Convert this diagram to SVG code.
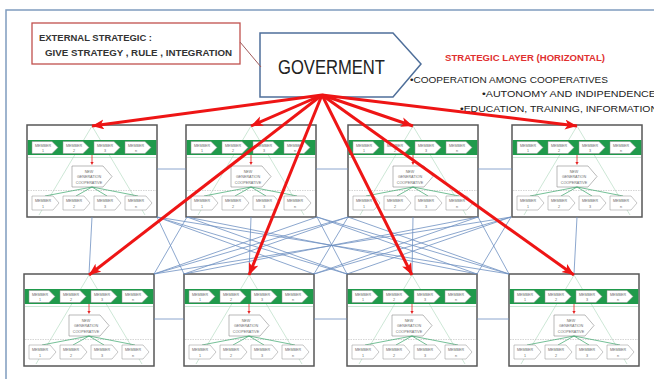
<svg xmlns="http://www.w3.org/2000/svg" width="654" height="379" viewBox="0 0 654 379">
<style>
.mt{font-family:"Liberation Sans",Arial,sans-serif;font-size:3.7px;fill:#6a6a6a;text-anchor:middle}
.mem{fill:#fff;stroke:#8c8c8c;stroke-width:0.5}
.mesh{stroke:#6f90c2;stroke-width:0.8;fill:none}
.red{stroke:#ee1515;stroke-width:3;fill:none;marker-end:url(#ah)}
.hdr{font-family:"Liberation Sans",Arial,sans-serif;font-weight:bold;font-size:9px;fill:#333}
.bul{font-family:"Liberation Sans",Arial,sans-serif;font-size:9.5px;fill:#222}
</style>
<defs>
<marker id="ah" markerUnits="userSpaceOnUse" markerWidth="13" markerHeight="11" refX="12" refY="5" orient="auto">
<path d="M0,0 L12,5 L0,10 L3,5 z" fill="#ee1515"/>
</marker>
<polygon id="memTop" class="mem" points="0,0 20,0 26,6 20,12 0,12"/>
<polygon id="memBot" class="mem" points="0,0 21,0 27,7 21,14 0,14"/>
<g id="coop">
<rect x="0" y="0" width="130" height="92" fill="#fff" stroke="#575757" stroke-width="1.5"/>
<path d="M65,1 L12,90 M65,1 L118,90" stroke="#b7dcc4" stroke-width="0.7" fill="none"/>
<rect x="0.75" y="15" width="128.5" height="15" fill="#1f9a4b"/>
<line x1="1" y1="32.5" x2="129" y2="32.5" stroke="#a6d9b8" stroke-width="0.6"/>
<use href="#memTop" x="5" y="16.5"/><use href="#memTop" x="36" y="16.5"/><use href="#memTop" x="67" y="16.5"/><use href="#memTop" x="98" y="16.5"/>
<text class="mt" x="16" y="21.8">MEMBER</text><text class="mt" x="16" y="27.2">1</text>
<text class="mt" x="47" y="21.8">MEMBER</text><text class="mt" x="47" y="27.2">2</text>
<text class="mt" x="78" y="21.8">MEMBER</text><text class="mt" x="78" y="27.2">3</text>
<text class="mt" x="109" y="21.8">MEMBER</text><text class="mt" x="109" y="27.2">n</text>
<line x1="65" y1="30" x2="65" y2="38" stroke="#e52020" stroke-width="0.8"/>
<polygon points="63.4,37 66.6,37 65,40" fill="#e52020"/>
<polygon points="45,41 76,41 85,51.5 76,62 45,62" fill="#fff" stroke="#8c8c8c" stroke-width="0.6"/>
<text class="mt" x="62" y="47.5">NEW</text>
<text class="mt" x="62" y="53">GENERATION</text>
<text class="mt" x="62" y="58.5">COOPERATIVE</text>
<line x1="1" y1="65.5" x2="129" y2="65.5" stroke="#bbb" stroke-width="0.6" stroke-dasharray="1.5,1"/>
<path d="M65,62 L18,71 M65,62 L49,71 M65,62 L80,71 M65,62 L111,71" stroke="#3aa56a" stroke-width="0.7" fill="none"/>
<use href="#memBot" x="5" y="71"/><use href="#memBot" x="36" y="71"/><use href="#memBot" x="67" y="71"/><use href="#memBot" x="98" y="71"/>
<text class="mt" x="16" y="77">MEMBER</text><text class="mt" x="16" y="82.7">1</text>
<text class="mt" x="47" y="77">MEMBER</text><text class="mt" x="47" y="82.7">2</text>
<text class="mt" x="78" y="77">MEMBER</text><text class="mt" x="78" y="82.7">3</text>
<text class="mt" x="109" y="77">MEMBER</text><text class="mt" x="109" y="82.7">n</text>
</g>
</defs>
<rect width="654" height="379" fill="#fff"/>
<path d="M6,379 L6,10 L654,10" fill="none" stroke="#7f9cbf" stroke-width="1.5"/>

<g id="external-strategic">
<rect x="32" y="23" width="208" height="41" fill="#fff" stroke="#c0504d" stroke-width="1.3"/>
<text class="hdr" x="39" y="41" textLength="113" lengthAdjust="spacingAndGlyphs">EXTERNAL STRATEGIC :</text>
<text class="hdr" x="45" y="56" textLength="187" lengthAdjust="spacingAndGlyphs">GIVE STRATEGY , RULE , INTEGRATION</text>
</g>

<g id="goverment">
<polygon points="260,33 393,33 421,64 393,97 260,97" fill="#fff" stroke="#4f6f9a" stroke-width="1.5"/>
<text x="278" y="74" font-family="Liberation Sans, Arial, sans-serif" font-size="20" fill="#222" textLength="107" lengthAdjust="spacingAndGlyphs">GOVERMENT</text>
</g>

<g id="strategic-layer">
<text x="445" y="61" font-family="Liberation Sans, Arial, sans-serif" font-size="9.5" font-weight="bold" fill="#e03030" textLength="160" lengthAdjust="spacingAndGlyphs">STRATEGIC LAYER (HORIZONTAL)</text>
<text class="bul" x="410" y="82.5" textLength="198" lengthAdjust="spacingAndGlyphs">•COOPERATION AMONG COOPERATIVES</text>
<text class="bul" x="482" y="97" textLength="174" lengthAdjust="spacingAndGlyphs">•AUTONOMY AND INDIPENDENCE</text>
<text class="bul" x="460" y="111.5" textLength="198" lengthAdjust="spacingAndGlyphs">•EDUCATION, TRAINING, INFORMATION</text>
</g>

<g id="coop-top-1" transform="translate(27,125)"><use href="#coop"/></g>
<g id="coop-top-2" transform="translate(186,125)"><use href="#coop"/></g>
<g id="coop-top-3" transform="translate(348,125)"><use href="#coop"/></g>
<g id="coop-top-4" transform="translate(512,125)"><use href="#coop"/></g>
<g id="coop-bottom-1" transform="translate(24,274)"><use href="#coop"/></g>
<g id="coop-bottom-2" transform="translate(184,274)"><use href="#coop"/></g>
<g id="coop-bottom-3" transform="translate(347,274)"><use href="#coop"/></g>
<g id="coop-bottom-4" transform="translate(509,274)"><use href="#coop"/></g>

<g id="connectors">
<line x1="240" y1="42" x2="261" y2="67" stroke="#a05a5a" stroke-width="1"/>
<path class="mesh" d="M157,169 L186,169 M316,169 L348,169 M478,169 L512,169 M154,319 L184,319 M314,319 L347,319 M477,319 L509,319
M92,217 L89,274 M251,217 L249,274 M413,217 L412,274 M577,217 L574,274
M157,217 L509,274 M187,217 L477,274 M317,217 L347,274 M348,217 L314,274 M478,217 L184,274 M511,217 L154,274
M157,217 L314,274 M187,217 L347,274 M317,217 L477,274 M348,217 L509,274 M317,217 L154,274 M348,217 L184,274 M478,217 L314,274 M511,217 L347,274
M157,217 L347,274 M317,217 L509,274 M348,217 L154,274 M511,217 L314,274
M157,217 L184,274 M187,217 L154,274 M478,217 L509,274 M511,217 L477,274"/>
<path class="red" d="M322,95 L92,126"/>
<path class="red" d="M322,95 L251,126"/>
<path class="red" d="M322,95 L413,126"/>
<path class="red" d="M322,95 L577,126"/>
<path class="red" d="M322,95 L89,275"/>
<path class="red" d="M322,95 L249,275"/>
<path class="red" d="M322,95 L412,275"/>
<path class="red" d="M322,95 L574,275"/>
</g>
</svg>
